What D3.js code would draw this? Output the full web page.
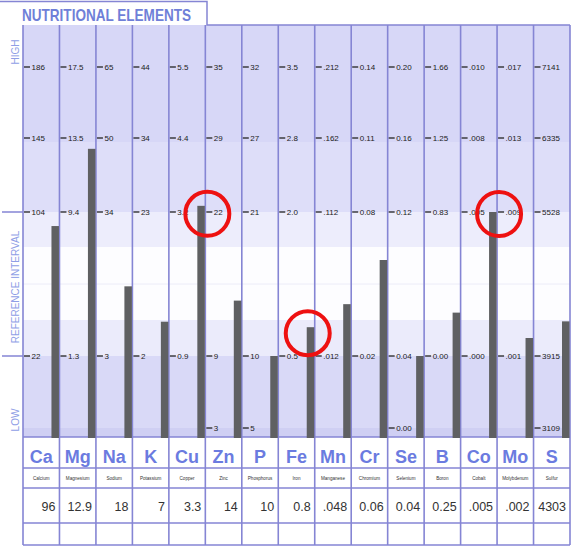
<!DOCTYPE html>
<html>
<head>
<meta charset="utf-8">
<script src="https://cdn.jsdelivr.net/npm/d3@7"></script>
<style>
  body { margin: 0; background: #fff; }
  svg { display: block; font-family: Arial, "Liberation Sans", sans-serif; }
</style>
</head>
<body>
<svg id="chart" width="571" height="547"></svg>
<script>
"use strict";

// Elements, one column each
var symbols = ["Ca", "Mg", "Na", "K", "Cu", "Zn", "P", "Fe", "Mn", "Cr", "Se", "B", "Co", "Mo", "S"];
var names = ["Calcium", "Magnesium", "Sodium", "Potassium", "Copper", "Zinc", "Phosphorus", "Iron",
             "Manganese", "Chromium", "Selenium", "Boron", "Cobalt", "Molybdenum", "Sulfur"];

// Measured values (bars) and how they are printed in the table
var values = [96, 12.9, 18, 7, 3.3, 14, 10, 0.8, 0.048, 0.06, 0.04, 0.25, 0.005, 0.002, 4303];
var valueLabels = ["96", "12.9", "18", "7", "3.3", "14", "10", "0.8", ".048", "0.06", "0.04", "0.25", ".005", ".002", "4303"];

// Per-column tick labels, top to bottom
var highTicks   = ["186", "17.5", "65", "44", "5.5", "35", "32", "3.5", ".212", "0.14", "0.20", "1.66", ".010", ".017", "7141"];
var upperTicks  = ["145", "13.5", "50", "34", "4.4", "29", "27", "2.8", ".162", "0.11", "0.16", "1.25", ".008", ".013", "6335"];
var refHighTicks = ["104", "9.4", "34", "23", "3.2", "22", "21", "2.0", ".112", "0.08", "0.12", "0.83", ".005", ".009", "5528"];
var refLowTicks = ["22", "1.3", "3", "2", "0.9", "9", "10", "0.5", ".012", "0.02", "0.04", "0.00", ".000", ".001", "3915"];
var lowTicks    = [null, null, null, null, null, "3", "5", null, null, null, "0.00", null, null, null, "3109"];

// Circled readings
var highlights = [
    { el: "Cu", dx: 2, dy: 8 },
    { el: "Fe", dx: -7, dy: 6 },
    { el: "Co", dx: 2, dy: 2 }
];

var svg = d3.select("#chart");
var lineColor = "#8585d4";
var blue = "#6b7be0";

// Layout
var plotLeft = 23, plotRight = 570, plotTop = 25, plotBottom = 437;
var tableRows = [437, 468, 488, 523, 545];
// y position of each tick level: high, upper, ref high, ref low, low
var levelY = [67, 138, 212, 356, 428];

var x = d3.scaleBand().domain(symbols).range([plotLeft, plotRight]).padding(0);
var bw = x.bandwidth();

// Each column gets its own piecewise scale
var scales = symbols.map(function(s, i) {
    var dom = [+refLowTicks[i], +refHighTicks[i], +upperTicks[i], +highTicks[i]];
    var rng = [levelY[3], levelY[2], levelY[1], levelY[0]];
    if (lowTicks[i] !== null) { dom.unshift(+lowTicks[i]); rng.unshift(levelY[4]); }
    return d3.scaleLinear().domain(dom).range(rng);
});

// Background bands
var bands = [
    { y0: plotTop, y1: 142, c: "#d7d7f7" },
    { y0: 142, y1: 212, c: "#dedef9" },
    { y0: 212, y1: 247, c: "#ededfc" },
    { y0: 247, y1: 320, c: "#fdfdff" },
    { y0: 320, y1: 356, c: "#ebebfb" },
    { y0: 356, y1: 428, c: "#d9d9f7" },
    { y0: 428, y1: plotBottom, c: "#cfcff3" }
];
svg.append("g").selectAll("rect").data(bands).join("rect")
    .attr("x", plotLeft).attr("width", plotRight - plotLeft)
    .attr("y", function(d) { return d.y0; })
    .attr("height", function(d) { return d.y1 - d.y0; })
    .attr("fill", function(d) { return d.c; });

svg.append("line")
    .attr("x1", plotLeft).attr("x2", plotRight).attr("y1", 284).attr("y2", 284)
    .attr("stroke", "#ececf8").attr("stroke-width", 1);

// Title box
svg.append("text")
    .attr("x", 22).attr("y", 21)
    .attr("fill", "#6f7fd8").attr("font-weight", "bold").attr("font-size", 17)
    .attr("textLength", 169).attr("lengthAdjust", "spacingAndGlyphs")
    .text("NUTRITIONAL ELEMENTS");
svg.append("path")
    .attr("d", "M0,1.5H207V" + plotTop + "H" + plotRight)
    .attr("fill", "none").attr("stroke", lineColor).attr("stroke-width", 1.5);

// Column separators and table grid
svg.append("g").selectAll("line").data(symbols.concat(["end"])).join("line")
    .attr("x1", function(d, i) { return plotLeft + i * bw; })
    .attr("x2", function(d, i) { return plotLeft + i * bw; })
    .attr("y1", plotTop).attr("y2", tableRows[4])
    .attr("stroke", lineColor).attr("stroke-width", 1.6);
svg.append("g").selectAll("line").data(tableRows).join("line")
    .attr("x1", plotLeft).attr("x2", plotRight)
    .attr("y1", function(d) { return d; }).attr("y2", function(d) { return d; })
    .attr("stroke", lineColor).attr("stroke-width", 1.5);

// Reference limit markers on the left edge
svg.append("g").selectAll("line").data([levelY[2], levelY[3]]).join("line")
    .attr("x1", 2).attr("x2", plotLeft).attr("y1", function(d) { return d; }).attr("y2", function(d) { return d; })
    .attr("stroke", lineColor).attr("stroke-width", 1.5);

// Side labels
var sideLabels = [{ t: "HIGH", y: 52 }, { t: "REFERENCE INTERVAL", y: 287 }, { t: "LOW", y: 420 }];
svg.append("g").selectAll("text").data(sideLabels).join("text")
    .attr("transform", function(d) { return "translate(19," + d.y + ") rotate(-90)"; })
    .attr("text-anchor", "middle").attr("fill", "#8f9ee6").attr("font-size", 10)
    .text(function(d) { return d.t; });

// Tick labels per column
var tickRows = [highTicks, upperTicks, refHighTicks, refLowTicks, lowTicks];
var ticks = [];
symbols.forEach(function(s, i) {
    tickRows.forEach(function(row) {
        if (row[i] !== null) ticks.push({ col: s, label: row[i], y: scales[i](+row[i]) });
    });
});
var tg = svg.append("g").selectAll("g").data(ticks).join("g")
    .attr("transform", function(d) { return "translate(" + x(d.col) + "," + d.y + ")"; });
tg.append("line").attr("x1", 1).attr("x2", 7).attr("stroke", "#222").attr("stroke-width", 1.3);
tg.append("text").attr("x", 8.5).attr("dy", "0.35em")
    .attr("font-size", 8).attr("fill", "#222")
    .text(function(d) { return d.label; });

// Bars
svg.append("g").selectAll("rect").data(symbols).join("rect")
    .attr("x", function(d) { return x(d) + bw - 8; })
    .attr("width", 7.5)
    .attr("y", function(d, i) { return scales[i](values[i]); })
    .attr("height", function(d, i) { return plotBottom + 1 - scales[i](values[i]); })
    .attr("fill", "#5f6062");

// Table: symbols, names, values
svg.append("g").selectAll("text").data(symbols).join("text")
    .attr("x", function(d) { return x(d) + bw / 2; })
    .attr("y", 463).attr("text-anchor", "middle")
    .attr("font-size", 18).attr("font-weight", "bold").attr("fill", blue)
    .text(function(d) { return d; });
svg.append("g").selectAll("text").data(names).join("text")
    .attr("x", function(d, i) { return x(symbols[i]) + bw / 2; })
    .attr("y", 480).attr("text-anchor", "middle")
    .attr("font-size", 4.6).attr("fill", "#333")
    .text(function(d) { return d; });
svg.append("g").selectAll("text").data(valueLabels).join("text")
    .attr("x", function(d, i) { return x(symbols[i]) + bw - 4; })
    .attr("y", 511).attr("text-anchor", "end")
    .attr("font-size", 12.5).attr("fill", "#333")
    .text(function(d) { return d; });

// Red circles
svg.append("g").selectAll("circle").data(highlights).join("circle")
    .attr("cx", function(d) { return x(d.el) + bw + d.dx; })
    .attr("cy", function(d) { var i = symbols.indexOf(d.el); return scales[i](values[i]) + d.dy; })
    .attr("r", 22)
    .attr("fill", "none").attr("stroke", "#ee1111").attr("stroke-width", 4);
</script>
</body>
</html>
